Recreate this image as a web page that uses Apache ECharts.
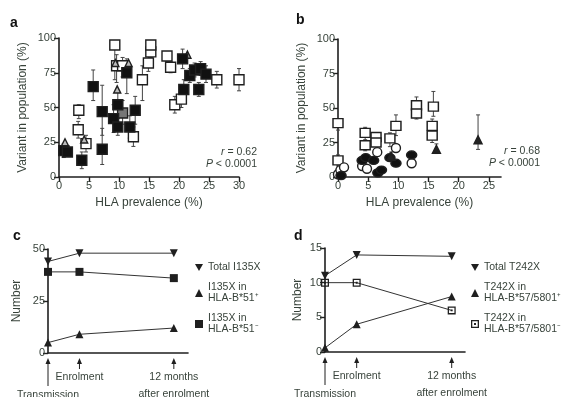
<!DOCTYPE html>
<html>
<head>
<meta charset="utf-8">
<script src="https://cdn.jsdelivr.net/npm/echarts@6/dist/echarts.min.js"></script>
<style>
  html, body { margin: 0; padding: 0; background: #fff; }
  #chart { width: 574px; height: 397px; }
</style>
</head>
<body>
<div id="chart"></div>
<script>
// ---- panel a: HLA prevalence (%) vs variant in population (%) ----
const aFilled = [[0.8, 19], [1.4, 18], [3.8, 12], [5.7, 65], [7.2, 47], [7.2, 20], [9.1, 42], [9.8, 52], [9.8, 36], [11.3, 75], [11.8, 36], [12.7, 48], [20.6, 85], [20.8, 63], [21.8, 73], [22.6, 77], [23.3, 63], [23.6, 78], [24.5, 74]];
const aFilledErr = [[14, 24], [15, 22], [6, 18], [55, 77], [30, 66], [9, 35], [32, 52], [42, 62], [30, 44], [60, 85], [28, 44], [38, 58], [78, 92], [55, 70], [68, 78], [72, 82], [58, 68], [73, 83], [68, 80]];
const aGray = [[10.6, 46]];
const aGrayErr = [[38, 55]];
const aOpen = [[3.3, 48], [3.2, 34], [4.5, 24], [9.3, 95], [9.6, 80], [10.6, 80], [12.4, 29], [13.9, 70], [14.9, 82], [15.3, 90], [15.3, 95], [18, 87], [18.6, 79], [19.3, 52], [20.4, 56], [26.3, 70], [30, 70]];
const aOpenErr = [[42, 52], [28, 40], [18, 30], [70, 98], [68, 88], [72, 86], [22, 36], [55, 80], [76, 88], [86, 93], [92, 98], [83, 90], [75, 83], [46, 58], [50, 62], [64, 76], [62, 78]];
const aTri = [[1, 25], [4.2, 27], [9.7, 63], [9.4, 82], [11.6, 82], [21.4, 88]];

// ---- panel b ----
const bOpenSq = [[0, 39], [0, 12], [4.5, 32], [4.5, 23], [6.3, 29], [6.3, 25], [8.6, 28], [9.6, 37], [13, 52], [13, 46], [15.8, 51], [15.6, 37], [15.6, 30]];
const bOpenSqErr = [[34, 42], [8, 16], [25, 36], [19, 27], [24, 32], [20, 29], [22, 32], [30, 45], [45, 58], [42, 50], [44, 62], [32, 42], [25, 34]];
const bOpenCircle = [[0, 2], [0.4, 5], [1, 7], [4, 8], [4.8, 6], [6.5, 18], [9.6, 21], [12.2, 10]];
const bFilledCircle = [[0.5, 1], [4, 12], [4.6, 14], [5.9, 12], [6.6, 3], [7.2, 5], [8.6, 14], [9.6, 10], [12.2, 16]];
const bTri = [[8.8, 15], [16.3, 20], [23.2, 27]];
const bTriErr = [[12, 18], [17, 24], [20, 45]];

// ---- panels c and d: number over time ----
const timeX = [0, 1, 4];
const timeLabels = ['Transmission', 'Enrolment', '12 months\nafter enrolment'];
const cTotal = [44, 48, 48];
const cNeg = [39, 39, 36];
const cPos = [5, 9, 12];
const dTotal = [11, 14, 13.8];
const dNeg = [10, 10, 6];
const dPos = [0.6, 4, 8];

const ink = '#1f1f1f';
const txt = '#37423a';
const font = 'Liberation Sans, Arial, sans-serif';
const downTri = 'path://M0,0L10,0L5,9Z';
const dotSquare = 'path://M0,0H10V10H0Z M1.6,1.6V8.4H8.4V1.6Z M3.8,3.8H6.2V6.2H3.8Z';

const chart = echarts.init(document.getElementById('chart'));

function errorBars(points, errs, gi) {
  return {
    type: 'custom', xAxisIndex: gi, yAxisIndex: gi, z: 1, silent: true,
    data: points.map((p, i) => [p[0], errs[i][0], errs[i][1]]),
    renderItem: function (params, api) {
      const lo = api.coord([api.value(0), api.value(1)]);
      const hi = api.coord([api.value(0), api.value(2)]);
      const s = { stroke: '#444', lineWidth: 1 };
      return {
        type: 'group', children: [
          { type: 'line', shape: { x1: lo[0], y1: lo[1], x2: hi[0], y2: hi[1] }, style: s },
          { type: 'line', shape: { x1: lo[0] - 2, y1: lo[1], x2: lo[0] + 2, y2: lo[1] }, style: s },
          { type: 'line', shape: { x1: hi[0] - 2, y1: hi[1], x2: hi[0] + 2, y2: hi[1] }, style: s }
        ]
      };
    }
  };
}

function scatter(points, gi, symbol, size, fill) {
  return {
    type: 'scatter', xAxisIndex: gi, yAxisIndex: gi, z: 3, silent: true,
    symbol: symbol, symbolSize: size, data: points,
    itemStyle: { color: fill, borderColor: ink, borderWidth: 1.4, opacity: 1 }
  };
}

function line(name, ys, gi, symbol, size) {
  return {
    name: name, type: 'line', xAxisIndex: gi, yAxisIndex: gi, silent: true,
    data: timeX.map((x, i) => [x, ys[i]]),
    symbol: symbol, symbolSize: size, showSymbol: true,
    lineStyle: { color: '#333', width: 1 },
    itemStyle: { color: ink, borderWidth: 0 }
  };
}

const axisBase = {
  axisLine: { show: true, onZero: false, lineStyle: { color: ink, width: 1.6 } },
  axisTick: { show: true, length: 5, lineStyle: { color: ink, width: 1.4 } },
  axisLabel: { color: txt, fontSize: 11, fontFamily: font, margin: 3 },
  splitLine: { show: false },
  nameTextStyle: { color: txt, fontSize: 12, fontFamily: font }
};

function xValue(gi, max, ticks, name) {
  return Object.assign({}, axisBase, {
    type: 'value', gridIndex: gi, min: 0, max: max, interval: 5,
    name: name, nameLocation: 'middle', nameGap: 20,
    axisTick: Object.assign({}, axisBase.axisTick, { customValues: ticks }),
    axisLabel: Object.assign({}, axisBase.axisLabel, { customValues: ticks })
  });
}

function yValue(gi, max, interval, name, gap) {
  return Object.assign({}, axisBase, {
    type: 'value', gridIndex: gi, min: 0, max: max, interval: interval,
    name: name, nameLocation: 'middle', nameGap: gap
  });
}

function xTime(gi, max) {
  return Object.assign({}, axisBase, {
    type: 'value', gridIndex: gi, min: 0, max: max,
    axisTick: { show: false }, axisLabel: { show: false }
  });
}

const legendStyle = {
  orient: 'vertical', itemWidth: 8, itemHeight: 8, itemGap: 9, selectedMode: false,
  textStyle: { color: txt, fontSize: 10.5, fontFamily: font, lineHeight: 11 }
};

const option = {
  animation: false,
  backgroundColor: '#fff',
  textStyle: { fontFamily: font },
  grid: [
    { left: 59, top: 38, width: 180, height: 139, outerBoundsMode: 'none' },
    { left: 338, top: 39, width: 163, height: 138, outerBoundsMode: 'none' },
    { left: 48, top: 249, width: 140, height: 104, outerBoundsMode: 'none' },
    { left: 325, top: 248, width: 140, height: 104, outerBoundsMode: 'none' }
  ],
  xAxis: [
    xValue(0, 30, [0, 5, 10, 15, 20, 25, 30], 'HLA prevalence (%)'),
    xValue(1, 27, [0, 5, 10, 15, 20, 25], 'HLA prevalence (%)'),
    xTime(2, 4.45),
    xTime(3, 4.42)
  ],
  yAxis: [
    yValue(0, 100, 25, 'Variant in population (%)', 30),
    yValue(1, 100, 25, 'Variant in population (%)', 30),
    yValue(2, 50, 25, 'Number', 25),
    yValue(3, 15, 5, 'Number', 21)
  ],
  legend: [
    Object.assign({}, legendStyle, {
      left: 190, top: 257,
      data: [
        { name: 'Total I135X', icon: downTri },
        { name: 'I135X in\nHLA-B*51⁺', icon: 'triangle' },
        { name: 'I135X in\nHLA-B*51⁻', icon: 'rect' }
      ]
    }),
    Object.assign({}, legendStyle, {
      left: 466, top: 257,
      data: [
        { name: 'Total T242X', icon: downTri },
        { name: 'T242X in\nHLA-B*57/5801⁺', icon: 'triangle' },
        { name: 'T242X in\nHLA-B*57/5801⁻', icon: dotSquare }
      ]
    })
  ],
  series: [
    errorBars(aFilled, aFilledErr, 0),
    errorBars(aGray, aGrayErr, 0),
    errorBars(aOpen, aOpenErr, 0),
    scatter(aOpen, 0, 'rect', 10, '#fff'),
    scatter(aTri, 0, 'triangle', 7, '#bbb'),
    scatter(aGray, 0, 'rect', 10, '#777'),
    scatter(aFilled, 0, 'rect', 10, '#111'),

    errorBars(bOpenSq, bOpenSqErr, 1),
    errorBars(bTri, bTriErr, 1),
    scatter(bOpenSq, 1, 'rect', [10, 9], '#fff'),
    scatter(bOpenCircle, 1, 'circle', 9, '#fff'),
    scatter(bFilledCircle, 1, 'circle', [10, 8], '#111'),
    scatter(bTri, 1, 'triangle', 8, '#222'),

    line('Total I135X', cTotal, 2, downTri, 8),
    line('I135X in\nHLA-B*51⁺', cPos, 2, 'triangle', 8),
    line('I135X in\nHLA-B*51⁻', cNeg, 2, 'rect', 8),
    line('Total T242X', dTotal, 3, downTri, 8),
    line('T242X in\nHLA-B*57/5801⁺', dPos, 3, 'triangle', 8),
    line('T242X in\nHLA-B*57/5801⁻', dNeg, 3, dotSquare, 8)
  ]
};

chart.setOption(option);

// annotations: panel letters, correlation stats, time arrows
const g = [];
const letters = [['a', 10, 23], ['b', 296, 20], ['c', 13, 236], ['d', 294, 236]];
letters.forEach(l => g.push({
  type: 'text', x: l[1], y: l[2],
  style: { text: l[0], fill: '#111', font: 'bold 14px ' + font, verticalAlign: 'middle' }
}));
const statRich = { i: { fontStyle: 'italic', fill: txt, fontSize: 10.5, fontFamily: font } };
[['0.62', 257, 152], ['0.68', 540, 151]].forEach(s => {
  g.push({ type: 'text', x: s[1], y: s[2], style: { text: '{i|r} = ' + s[0], rich: statRich, fill: txt, font: '10.5px ' + font, align: 'right', verticalAlign: 'middle' } });
  g.push({ type: 'text', x: s[1], y: s[2] + 12, style: { text: '{i|P} < 0.0001', rich: statRich, fill: txt, font: '10.5px ' + font, align: 'right', verticalAlign: 'middle' } });
});
[2, 3].forEach(gi => {
  timeX.forEach((x, i) => {
    const p = chart.convertToPixel({ xAxisIndex: gi, yAxisIndex: gi }, [x, 0]);
    const px = p[0], py = p[1];
    const tail = i === 0 ? 33 : 16;
    g.push({ type: 'polygon', shape: { points: [[px, py + 5], [px - 2.5, py + 11], [px + 2.5, py + 11]] }, style: { fill: ink } });
    g.push({ type: 'line', shape: { x1: px, y1: py + 9, x2: px, y2: py + tail }, style: { stroke: ink, lineWidth: 1 } });
    g.push({
      type: 'text', x: px, y: py + (i === 0 ? 34 : 16),
      style: { text: timeLabels[i], fill: txt, font: '10.5px ' + font, align: 'center', verticalAlign: 'top', lineHeight: 17 }
    });
  });
});
chart.setOption({ graphic: g });

window.addEventListener('resize', () => chart.resize());
</script>
</body>
</html>
